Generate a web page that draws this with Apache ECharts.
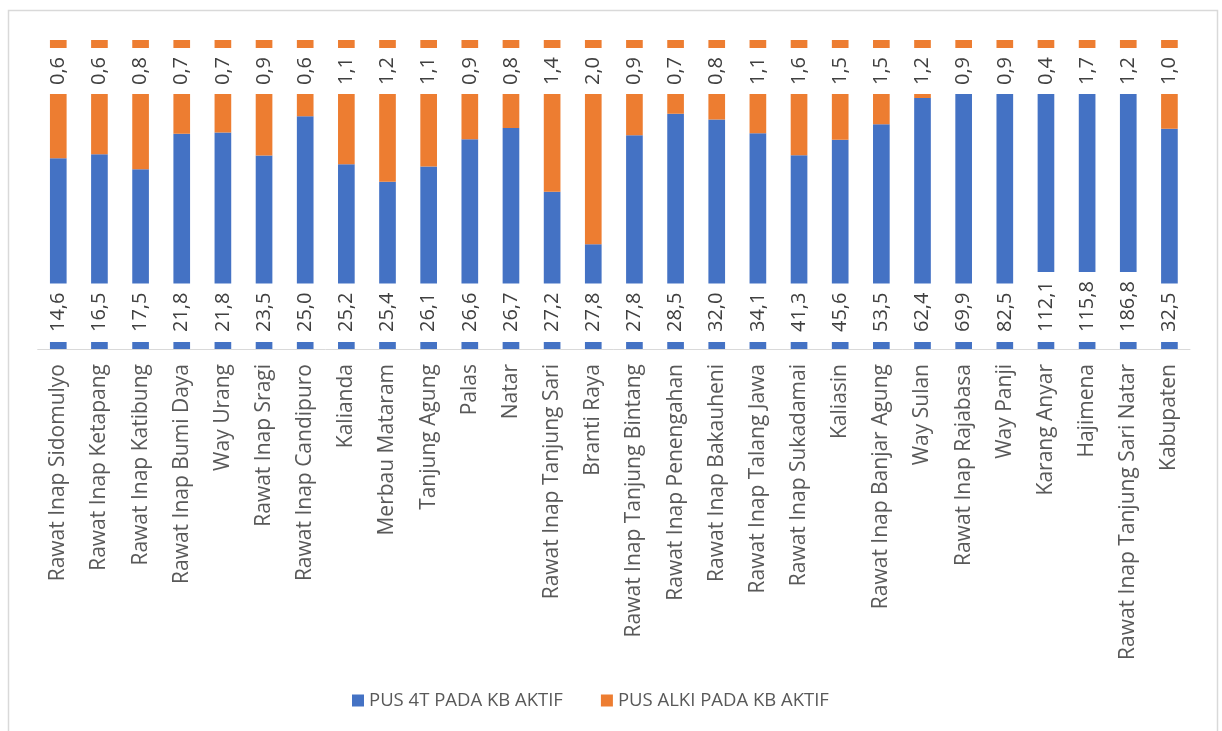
<!DOCTYPE html>
<html>
<head>
<meta charset="utf-8">
<style>
  html, body { margin: 0; padding: 0; background: #ffffff; }
  #chart { width: 1222px; height: 731px; }
</style>
<script src="https://cdn.jsdelivr.net/npm/echarts@6/dist/echarts.min.js"></script>
</head>
<body>
<div id="chart"></div>
<script>
// Puskesmas names along the x axis
const categories = [
  'Rawat Inap Sidomulyo', 'Rawat Inap Ketapang', 'Rawat Inap Katibung', 'Rawat Inap Bumi Daya',
  'Way Urang', 'Rawat Inap Sragi', 'Rawat Inap Candipuro', 'Kalianda', 'Merbau Mataram',
  'Tanjung Agung', 'Palas', 'Natar', 'Rawat Inap Tanjung Sari', 'Branti Raya',
  'Rawat Inap Tanjung Bintang', 'Rawat Inap Penengahan', 'Rawat Inap Bakauheni',
  'Rawat Inap Talang Jawa', 'Rawat Inap Sukadamai', 'Kaliasin', 'Rawat Inap Banjar Agung',
  'Way Sulan', 'Rawat Inap Rajabasa', 'Way Panji', 'Karang Anyar', 'Hajimena',
  'Rawat Inap Tanjung Sari Natar', 'Kabupaten'
];

// Values printed on the bars
const pus4T = [14.6, 16.5, 17.5, 21.8, 21.8, 23.5, 25.0, 25.2, 25.4, 26.1, 26.6, 26.7, 27.2, 27.8,
               27.8, 28.5, 32.0, 34.1, 41.3, 45.6, 53.5, 62.4, 69.9, 82.5, 112.1, 115.8, 186.8, 32.5];
const pusAlki = [0.6, 0.6, 0.8, 0.7, 0.7, 0.9, 0.6, 1.1, 1.2, 1.1, 0.9, 0.8, 1.4, 2.0,
                 0.9, 0.7, 0.8, 1.1, 1.6, 1.5, 1.5, 1.2, 0.9, 0.9, 0.4, 1.7, 1.2, 1.0];

// Share of each stacked column (percent of the column height)
const share4T = [61.7, 63.0, 58.2, 69.7, 70.1, 62.6, 75.3, 59.8, 54.1, 59.1, 67.9, 71.5, 50.9, 33.9,
                 69.2, 76.1, 74.3, 69.8, 62.7, 67.7, 72.7, 81.2, 90.0, 92.0, 94.0, 94.0, 96.0, 71.3];
const shareAlki = [38.3, 37.0, 41.8, 30.3, 29.9, 37.4, 24.7, 40.2, 45.9, 40.9, 32.1, 28.5, 49.1, 66.1,
                   30.8, 23.9, 25.7, 30.2, 37.3, 32.3, 27.3, 18.8, 10.0, 8.0, 6.0, 6.0, 4.0, 28.7];

const seriesNames = ['PUS 4T PADA KB AKTIF', 'PUS ALKI PADA KB AKTIF'];

const FONT = '"Open Sans", "Noto Sans", sans-serif';
const fmt = v => v.toFixed(1).replace('.', ',');

const chart = echarts.init(document.getElementById('chart'), null, { renderer: 'canvas' });

const labelBase = {
  show: true,
  rotate: 90,
  verticalAlign: 'middle',
  fontFamily: FONT,
  fontSize: 20,
  lineHeight: 20,
  color: '#404040',
  backgroundColor: '#ffffff'
};

chart.setOption({
  animation: false,
  backgroundColor: '#ffffff',
  graphic: [{
    type: 'rect',
    shape: { x: 8.5, y: 10.5, width: 1209, height: 740 },
    style: { fill: 'none', stroke: '#d9d9d9', lineWidth: 1.5 },
    silent: true,
    z: -10
  }],
  grid: { left: 37.7, right: 32, top: 40, bottom: 382 },
  legend: {
    data: seriesNames,
    left: 347,
    top: 686,
    icon: 'rect',
    itemWidth: 12,
    itemHeight: 12,
    itemGap: 38,
    textStyle: { fontFamily: FONT, fontSize: 18.5, color: '#595959' }
  },
  xAxis: {
    type: 'category',
    data: categories,
    axisLine: { show: true, lineStyle: { color: '#d9d9d9', width: 1 } },
    axisTick: { show: false },
    axisLabel: {
      interval: 0,
      rotate: 90,
      margin: 15,
      fontFamily: FONT,
      fontSize: 21,
      color: '#595959'
    }
  },
  yAxis: {
    type: 'value',
    min: 0,
    max: 100,
    show: false,
    splitLine: { show: false }
  },
  series: [
    {
      name: seriesNames[0],
      type: 'bar',
      stack: 'total',
      data: share4T,
      barWidth: '40.5%',
      itemStyle: { color: '#4472C4' },
      label: Object.assign({}, labelBase, {
        position: 'insideBottom',
        distance: 7,
        align: 'left',
        padding: [1, 9, 1, 10],
        formatter: p => fmt(pus4T[p.dataIndex])
      })
    },
    {
      name: seriesNames[1],
      type: 'bar',
      stack: 'total',
      data: shareAlki,
      barWidth: '40.5%',
      itemStyle: { color: '#ED7D31' },
      label: Object.assign({}, labelBase, {
        position: 'insideTop',
        distance: 8,
        align: 'right',
        padding: [1, 9, 1, 9],
        formatter: p => fmt(pusAlki[p.dataIndex])
      })
    }
  ]
});
</script>
</body>
</html>
